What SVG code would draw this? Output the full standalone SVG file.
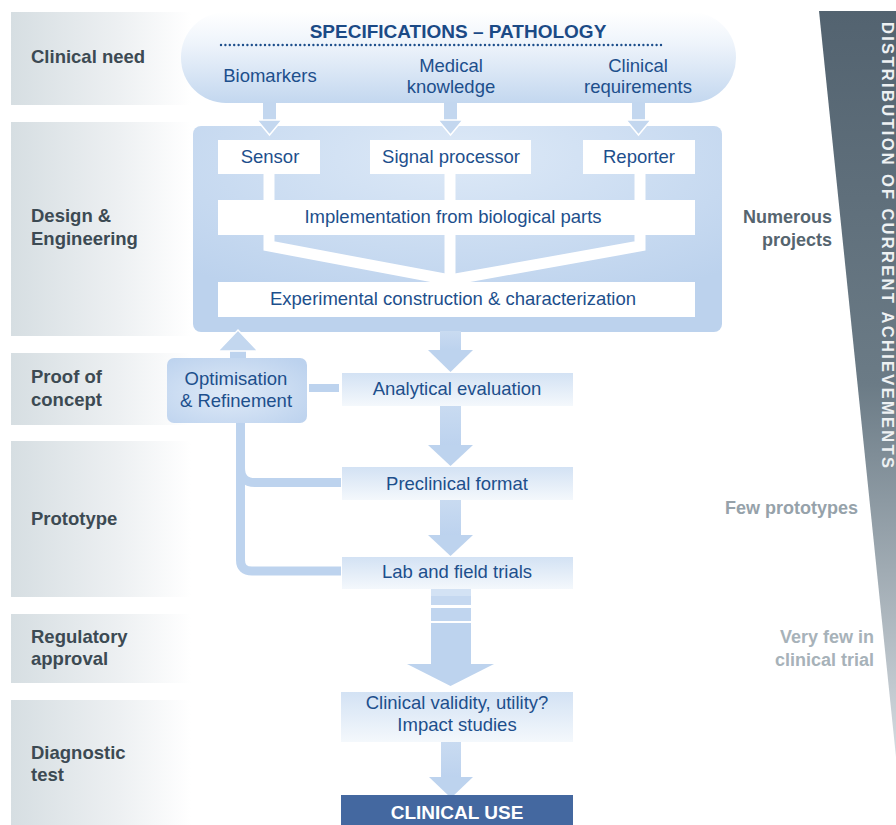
<svg xmlns="http://www.w3.org/2000/svg" width="896" height="825" viewBox="0 0 896 825">
<defs>
<linearGradient id="band" x1="0" x2="1" y1="0" y2="0">
<stop offset="0" stop-color="#d6dee2"/>
<stop offset="0.6" stop-color="#edf0f2"/>
<stop offset="1" stop-color="#ffffff"/>
</linearGradient>
<linearGradient id="pill" x1="0" y1="0" x2="0" y2="1">
<stop offset="0" stop-color="#ffffff"/>
<stop offset="0.35" stop-color="#eef4fb"/>
<stop offset="1" stop-color="#c3d7ef"/>
</linearGradient>
<radialGradient id="design" cx="0.5" cy="0.15" r="0.75">
<stop offset="0" stop-color="#dde9f7"/>
<stop offset="1" stop-color="#bcd2ed"/>
</radialGradient>
<linearGradient id="step" x1="0" y1="0" x2="0" y2="1">
<stop offset="0" stop-color="#d3e2f4"/>
<stop offset="1" stop-color="#f4f8fc"/>
</linearGradient>
<radialGradient id="opt" cx="0.45" cy="0.55" r="0.7">
<stop offset="0" stop-color="#dfeaf7"/>
<stop offset="1" stop-color="#bcd2ee"/>
</radialGradient>
<linearGradient id="tri" x1="0" y1="0" x2="0" y2="1">
<stop offset="0" stop-color="#536370"/>
<stop offset="0.5" stop-color="#6b7b86"/>
<stop offset="1" stop-color="#d5dbe0"/>
</linearGradient>
<linearGradient id="shaft" x1="0" y1="0" x2="0" y2="1">
<stop offset="0" stop-color="#c9dbf1"/>
<stop offset="1" stop-color="#bcd2ee"/>
</linearGradient>
</defs>
<style>
.lbl{font-family:"Liberation Sans",Arial,sans-serif;font-weight:bold;font-size:18.5px;fill:#3c4a53}
.txt{font-family:"Liberation Sans",Arial,sans-serif;font-size:18.5px;fill:#1d4f8c;text-anchor:middle}
.ttl{font-family:"Liberation Sans",Arial,sans-serif;font-weight:bold;font-size:19px;fill:#1b4a86;text-anchor:middle}
.rt{font-family:"Liberation Sans",Arial,sans-serif;font-weight:bold;font-size:18px;text-anchor:end}
.wbox{fill:#ffffff}
.arr{fill:#bdd3ee}
.arrw{fill:#c3d7ef;stroke:#ffffff;stroke-width:1.5}
.conn{fill:none;stroke:#bdd3ee;stroke-width:9}
.wconn{fill:none;stroke:#ffffff;stroke-width:11;stroke-linejoin:miter}
</style>

<!-- stage bands -->
<g id="bands">
<rect x="11" y="12" width="180" height="93" fill="url(#band)"/>
<rect x="11" y="122" width="180" height="214" fill="url(#band)"/>
<rect x="11" y="353" width="180" height="72" fill="url(#band)"/>
<rect x="11" y="441" width="180" height="156" fill="url(#band)"/>
<rect x="11" y="614" width="180" height="69" fill="url(#band)"/>
<rect x="11" y="700" width="180" height="125" fill="url(#band)"/>
<text class="lbl" x="31" y="63">Clinical need</text>
<text class="lbl" x="31" y="222">Design &amp;</text>
<text class="lbl" x="31" y="245">Engineering</text>
<text class="lbl" x="31" y="383">Proof of</text>
<text class="lbl" x="31" y="406">concept</text>
<text class="lbl" x="31" y="525">Prototype</text>
<text class="lbl" x="31" y="643">Regulatory</text>
<text class="lbl" x="31" y="665">approval</text>
<text class="lbl" x="31" y="759">Diagnostic</text>
<text class="lbl" x="31" y="781">test</text>
</g>

<!-- distribution wedge -->
<g id="distribution">
<polygon points="819,11 896,11 896,757" fill="url(#tri)"/>
<text x="881.5" y="22" transform="rotate(90 881.5 22)" font-family="Liberation Sans, Arial, sans-serif" font-weight="bold" font-size="16.5" fill="#eef1f3" textLength="446" lengthAdjust="spacing">DISTRIBUTION OF CURRENT ACHIEVEMENTS</text>
<text class="rt" x="832" y="223" fill="#56656f">Numerous</text>
<text class="rt" x="832" y="246" fill="#56656f">projects</text>
<text class="rt" x="858" y="514" fill="#96a2aa">Few prototypes</text>
<text class="rt" x="874" y="643" fill="#a7b2b9">Very few in</text>
<text class="rt" x="874" y="666" fill="#a7b2b9">clinical trial</text>
</g>

<!-- specifications -->
<g id="specifications">
<rect x="181" y="12" width="555" height="91" rx="45" ry="45" fill="url(#pill)"/>
<text class="ttl" x="458" y="38">SPECIFICATIONS – PATHOLOGY</text>
<line x1="221" y1="45" x2="663" y2="45" stroke="#1d4f8c" stroke-width="2.4" stroke-linecap="round" stroke-dasharray="0 4.4"/>
<text class="txt" x="270" y="82">Biomarkers</text>
<text class="txt" x="451" y="72">Medical</text>
<text class="txt" x="451" y="93">knowledge</text>
<text class="txt" x="638" y="72">Clinical</text>
<text class="txt" x="638" y="93">requirements</text>
</g>

<!-- design & engineering -->
<g id="design-box">
<rect x="193" y="126" width="529" height="206" rx="8" fill="url(#design)"/>
</g>

<g id="connectors">
<!-- spec to design -->
<rect x="263" y="102" width="13" height="21" fill="#c3d7ef"/>
<polygon class="arrw" points="257,120 282,120 269.5,135"/>
<rect x="444" y="102" width="13" height="21" fill="#c3d7ef"/>
<polygon class="arrw" points="438,120 463,120 450.5,135"/>
<rect x="632" y="102" width="13" height="21" fill="#c3d7ef"/>
<polygon class="arrw" points="626,120 651,120 638.5,135"/>
<!-- inside design box -->
<line class="wconn" x1="269" y1="172" x2="269" y2="202"/>
<line class="wconn" x1="450" y1="172" x2="450" y2="202"/>
<line class="wconn" x1="640" y1="172" x2="640" y2="202"/>
<polyline class="wconn" points="269,233 269,246 450,280"/>
<line class="wconn" x1="450" y1="233" x2="450" y2="284"/>
<polyline class="wconn" points="640,233 640,246 450,280"/>
<!-- design to analytical -->
<rect x="440" y="331" width="21" height="20" fill="url(#shaft)"/>
<polygon class="arr" points="428,350 473,350 450.5,372"/>
<!-- analytical to preclinical -->
<rect x="440" y="405" width="21" height="41" fill="url(#shaft)"/>
<polygon class="arr" points="428,445 473,445 450.5,466"/>
<!-- preclinical to lab -->
<rect x="440" y="499" width="21" height="37" fill="url(#shaft)"/>
<polygon class="arr" points="428,535 473,535 450.5,556"/>
<!-- lab to clinical validity -->
<rect x="431" y="589" width="40" height="16" fill="#d3e2f4"/>
<rect x="431" y="596" width="40" height="9" fill="#c5d8f0"/>
<rect x="431" y="608" width="40" height="13" fill="#c0d5ef"/>
<rect x="431" y="623" width="40" height="42" fill="#bdd3ee"/>
<polygon class="arr" points="407,664 494,664 450.5,686"/>
<!-- clinical validity to clinical use -->
<rect x="441" y="741" width="20" height="38" fill="url(#shaft)"/>
<polygon class="arr" points="429,777 473,777 451,798"/>
<!-- optimisation loop -->
<rect x="230" y="349" width="16" height="10" fill="#bdd3ee"/>
<polygon class="arrw" points="218,351 258,351 238,330"/>
<rect x="309" y="384" width="30" height="8" fill="#bdd3ee"/>
<path class="conn" d="M240.5 423 V560 Q240.5 571 252 571 H341"/>
<path class="conn" d="M240.5 468 Q240.5 482.5 255 482.5 H341"/>
</g>

<g id="sensor">
<rect class="wbox" x="218" y="140" width="102" height="34"/>
<text class="txt" x="270" y="163">Sensor</text>
</g>
<g id="signal-processor">
<rect class="wbox" x="370" y="140" width="161" height="34"/>
<text class="txt" x="451" y="163">Signal processor</text>
</g>
<g id="reporter">
<rect class="wbox" x="583" y="140" width="112" height="34"/>
<text class="txt" x="639" y="163">Reporter</text>
</g>
<g id="implementation">
<rect class="wbox" x="218" y="200" width="477" height="35"/>
<text class="txt" x="453" y="223">Implementation from biological parts</text>
</g>
<g id="experimental">
<rect class="wbox" x="218" y="282" width="477" height="35"/>
<text class="txt" x="453" y="305">Experimental construction &amp; characterization</text>
</g>

<g id="optimisation">
<rect x="167" y="358" width="140" height="65" rx="7" fill="url(#opt)"/>
<text class="txt" x="236" y="385">Optimisation</text>
<text class="txt" x="236" y="407">&amp; Refinement</text>
</g>
<g id="analytical">
<rect x="342" y="373" width="231" height="33" fill="url(#step)"/>
<text class="txt" x="457" y="395">Analytical evaluation</text>
</g>
<g id="preclinical">
<rect x="342" y="467" width="231" height="33" fill="url(#step)"/>
<text class="txt" x="457" y="490">Preclinical format</text>
</g>
<g id="lab">
<rect x="342" y="557" width="231" height="32" fill="url(#step)"/>
<text class="txt" x="457" y="578">Lab and field trials</text>
</g>
<g id="clinical-validity">
<rect x="341" y="692" width="232" height="50" fill="url(#step)"/>
<text class="txt" x="457" y="709">Clinical validity, utility?</text>
<text class="txt" x="457" y="731">Impact studies</text>
</g>
<g id="clinical-use">
<rect x="341" y="795" width="232" height="30" fill="#4468a0"/>
<text x="457" y="819" font-family="Liberation Sans, Arial, sans-serif" font-weight="bold" font-size="19" fill="#ffffff" text-anchor="middle">CLINICAL USE</text>
</g>
</svg>
